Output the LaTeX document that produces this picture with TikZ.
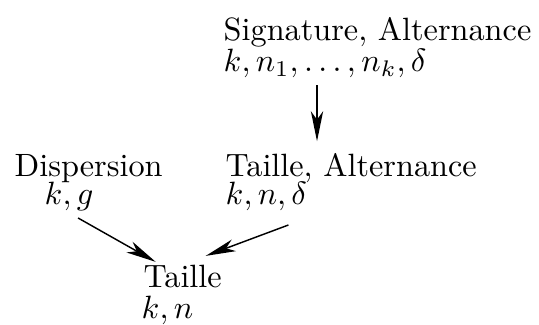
\documentclass[tikz,border=0pt]{standalone}
\usetikzlibrary{arrows.meta,calc}
\begin{document}
\begin{tikzpicture}[x=0.31pt,y=-0.31pt,line width=0.45pt,
    >={Stealth[length=9.3pt,width=3.8pt,inset=2.6pt]},
    lab/.style={anchor=base west,inner sep=0pt}]
  \useasboundingbox (0,0) rectangle (539,325);
  % problems and their parameters
  \node[lab] (sig)         at (223,41)  {Signature, Alternance};
  \node[lab] (sigvar)      at (223,72)  {$k, n_1, \ldots, n_k, \delta$};
  \node[lab] (disp)        at (14,177)  {Dispersion};
  \node[lab] (dispvar)     at (44,205)  {$k, g$};
  \node[lab] (taillealt)   at (225,177) {Taille, Alternance};
  \node[lab] (taillealtvar) at (225,205) {$k, n, \delta$};
  \node[lab] (taille)      at (143,287) {Taille};
  \node[lab] (taillevar)   at (141,318) {$k, n$};
  \coordinate (vx) at (317,0);
  % reductions
  \draw[->,shorten <=1.9pt,shorten >=3.7pt] (sigvar.south -| vx) -- (taillealt.north -| vx);
  \draw[->] ($(dispvar.south)+(9,6)$) -- ($(taille.north)+(-27,-2)$);
  \draw[->] ($(taillealtvar.south)+(22,13)$) -- ($(taille.north)+(23,-8)$);
\end{tikzpicture}
\end{document}
